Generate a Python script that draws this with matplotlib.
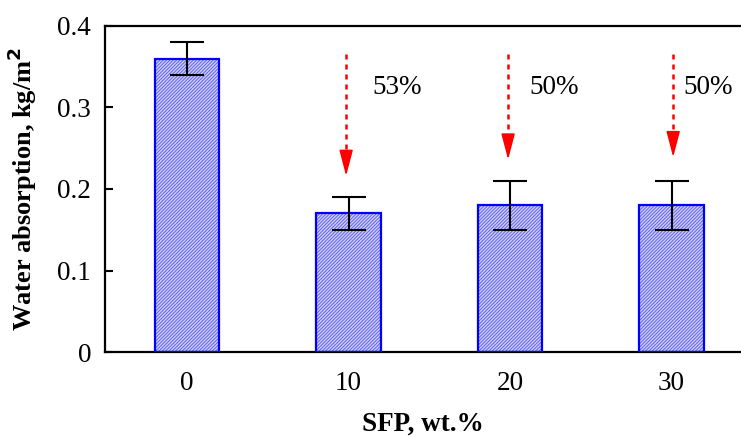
import matplotlib
matplotlib.use("Agg")
import matplotlib.pyplot as plt

categories = ["0", "10", "20", "30"]
values = [0.36, 0.17, 0.18, 0.18]
err_low = [0.02, 0.02, 0.03, 0.03]
err_high = [0.02, 0.02, 0.03, 0.03]
reductions = ["53%", "50%", "50%"]
arrow_start = [0.366, 0.366, 0.366]
arrow_tip = [0.216, 0.236, 0.239]

plt.rcParams['font.family'] = ['Liberation Serif', 'DejaVu Serif']
plt.rcParams['hatch.linewidth'] = 0.8

fig = plt.figure(figsize=(7.41, 4.37), dpi=100)
ax = fig.add_axes([105/741, 1-352/437, 1-105/741, (352-26)/437])

x = list(range(len(categories)))
ax.bar(x, values, width=0.40, facecolor='#d2d2fa', edgecolor='#6a6aea',
       hatch='//////////', linewidth=0, zorder=2)
ax.bar(x, values, width=0.40, fill=False, edgecolor='#0000ff', linewidth=1.6, zorder=3)
ax.errorbar(x, values, yerr=[err_low, err_high], fmt='none', ecolor='black',
            elinewidth=1.5, capsize=12, capthick=1.5, zorder=4)

arrow_x = [0.985, 1.988, 3.01]
text_x = [1.146, 2.117, 3.072]
for xi, tx, y0, y1, lab in zip(arrow_x, text_x, arrow_start, arrow_tip, reductions):
    ax.plot([xi, xi], [y0, y1 + 0.026], color='red', linestyle=(0, (2, 2)), linewidth=1.8, zorder=5)
    ax.annotate('', xy=(xi, y1), xytext=(xi, y1 + 0.029),
                arrowprops=dict(arrowstyle='-|>,head_length=1.6,head_width=0.42',
                                color='red', lw=1.2, shrinkA=0, shrinkB=0), zorder=6)
    ax.text(tx, 0.325, lab, fontsize=19.5, ha='left', va='center')

ax.set_xlim(-0.508, 3.43)
ax.set_ylim(0, 0.4)
ax.set_xticks(x)
ax.set_xticklabels(categories)
ax.set_yticks([0, 0.1, 0.2, 0.3, 0.4])
ax.set_yticklabels(['0', '0.1', '0.2', '0.3', '0.4'])
ax.tick_params(direction='in', length=6, width=1.5, labelsize=19.5, pad=10)
ax.tick_params(axis='x', pad=14)
ax.spines['right'].set_visible(False)
for s in ['left', 'top', 'bottom']:
    ax.spines[s].set_linewidth(1.6)

ax.set_xlabel('SFP, wt.%', fontsize=19.5, fontweight='bold', labelpad=11)
ax.set_ylabel('Water absorption, kg/m$^\\mathbf{2}$', fontsize=19, fontweight='bold', labelpad=13)

fig.savefig('out.png', dpi=100)
